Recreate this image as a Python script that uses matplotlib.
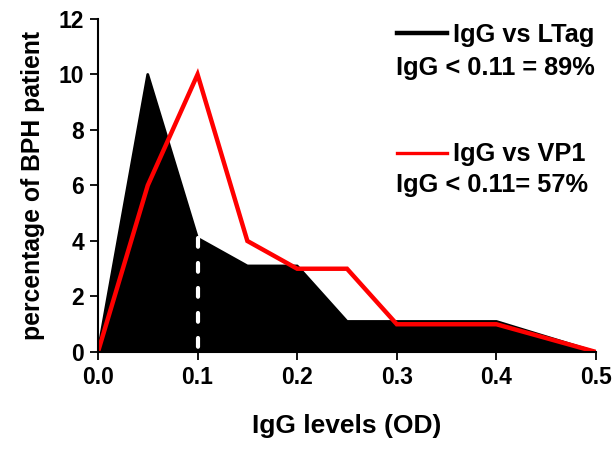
import numpy as np
import matplotlib
matplotlib.use("Agg")
import matplotlib.pyplot as plt

plt.rcParams['font.family'] = ['Liberation Sans', 'DejaVu Sans']
plt.rcParams['font.weight'] = 'bold'

# IgG levels (OD) and percentage of patients
od = [0.0, 0.05, 0.1, 0.15, 0.2, 0.25, 0.3, 0.35, 0.4, 0.5]
ltag = [0.0, 10.0, 4.1, 3.1, 3.1, 1.1, 1.1, 1.1, 1.1, 0.0]
vp1 = [0.0, 6.0, 10.0, 4.0, 3.0, 3.0, 1.0, 1.0, 1.0, 0.0]
cutoff = 0.1
cutoff_height = 4.1

xticks = [0.0, 0.1, 0.2, 0.3, 0.4, 0.5]
yticks = [0, 2, 4, 6, 8, 10, 12]

fig = plt.figure(figsize=(6.12, 4.51), dpi=100)
ax = fig.add_axes([0.16, 0.2195, 0.814, 0.7385])

# LTag: filled black area
ax.fill_between(od, ltag, 0, color='black', lw=0)
ax.plot(od, ltag, color='black', lw=2, solid_capstyle='round', solid_joinstyle='round')

# white dashed cutoff line (drawn top-down)
ax.plot([cutoff, cutoff], [cutoff_height, 0], color='white', lw=3,
        dashes=(2.1, 3.9), dash_capstyle='round')

# VP1 red line
ax.plot(od, vp1, color='#ff0000', lw=3.2, solid_joinstyle='miter')

ax.set_xlim(0, 0.5)
ax.set_ylim(0, 12)
ax.set_xticks(xticks)
ax.set_xticklabels([f"{v:.1f}" for v in xticks])
ax.set_yticks(yticks)
ax.tick_params(labelsize=16.5, width=1.3, length=6, direction='out', pad=4)
for lab in ax.get_xticklabels() + ax.get_yticklabels():
    lab.set_fontweight('bold')

for s in ['top', 'right']:
    ax.spines[s].set_visible(False)
for s in ['left', 'bottom']:
    ax.spines[s].set_linewidth(1.5)

ax.set_xlabel('IgG levels (OD)', fontsize=19, fontweight='bold', labelpad=18)
ax.set_ylabel('percentage of BPH patient', fontsize=17.8, fontweight='bold', labelpad=10)

# legend-like annotations
fs = 18.3
ax.plot([0.600, 0.701], [0.958, 0.958], color='black', lw=3.2, transform=ax.transAxes, clip_on=False)
ax.text(0.713, 0.952, 'IgG vs LTag', transform=ax.transAxes, fontsize=fs,
        fontweight='bold', va='center', ha='left')
ax.text(0.598, 0.853, 'IgG < 0.11 = 89%', transform=ax.transAxes, fontsize=fs,
        fontweight='bold', va='center', ha='left')

ax.plot([0.600, 0.701], [0.598, 0.598], color='#ff0000', lw=2.4, transform=ax.transAxes, clip_on=False)
ax.text(0.713, 0.595, 'IgG vs VP1', transform=ax.transAxes, fontsize=fs,
        fontweight='bold', va='center', ha='left')
ax.text(0.598, 0.500, 'IgG < 0.11= 57%', transform=ax.transAxes, fontsize=fs,
        fontweight='bold', va='center', ha='left')

fig.savefig('out.png', dpi=100)
